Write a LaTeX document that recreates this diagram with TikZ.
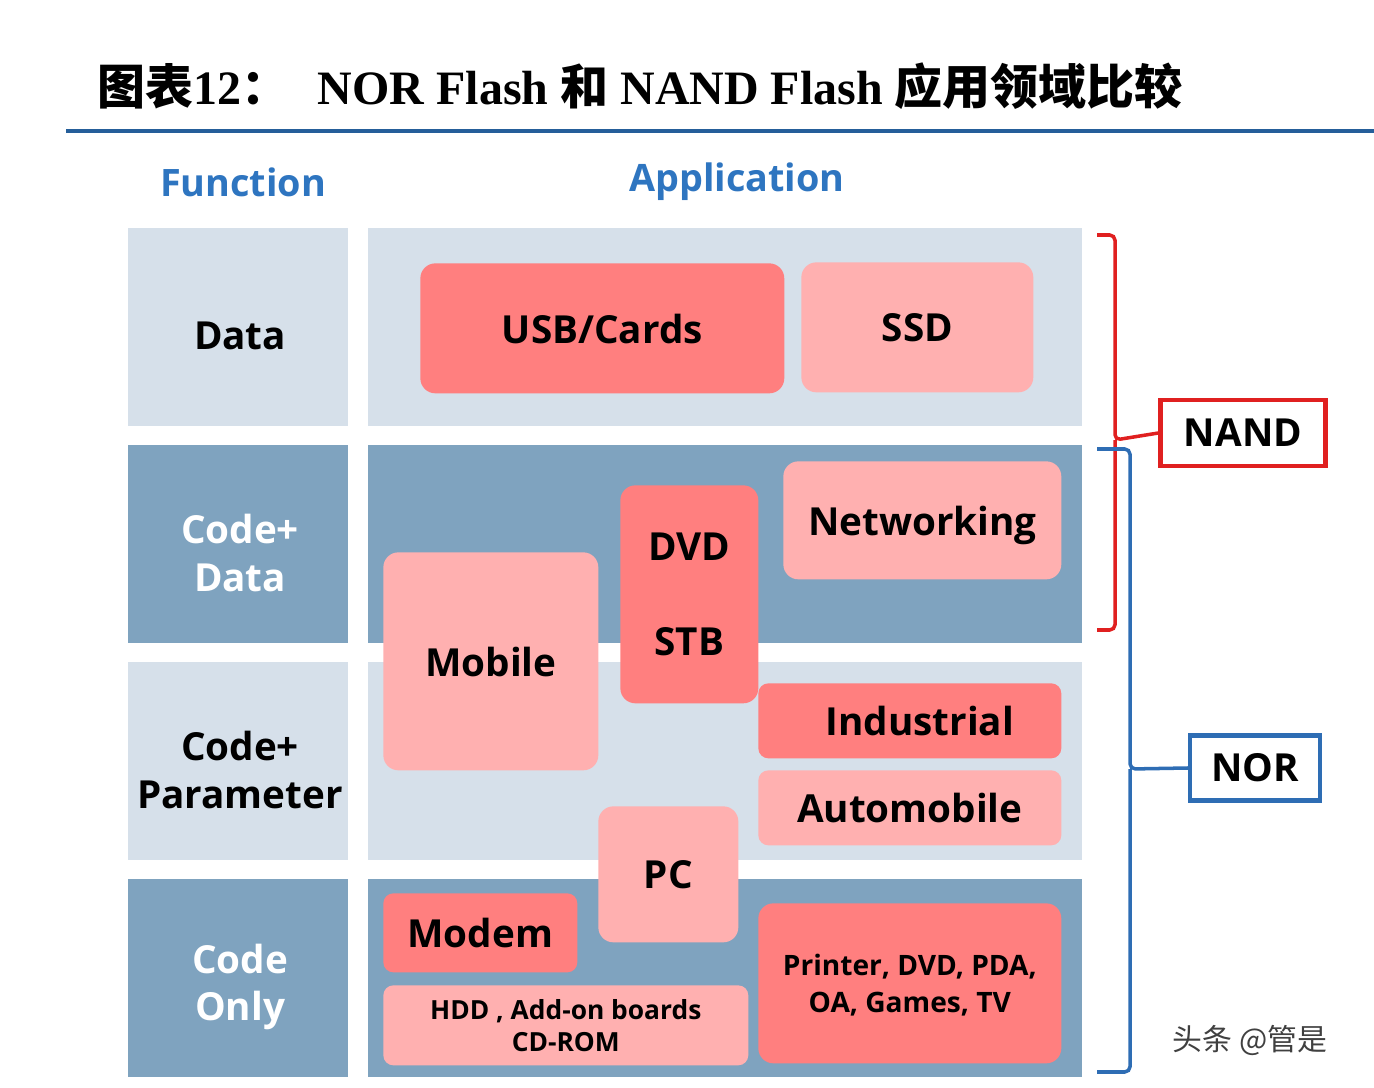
\documentclass[tikz,border=0pt]{standalone}
\usepackage{fontspec}
\setmainfont{Open Sans}
\newfontfamily\titlefont{Liberation Serif}
\newfontfamily\cjk{Noto Sans CJK SC}
\usetikzlibrary{positioning}
\definecolor{rowlight}{HTML}{D6E0EA}
\definecolor{rowdark}{HTML}{7FA3BF}
\definecolor{boxdark}{HTML}{FF7F7F}
\definecolor{boxlight}{HTML}{FFB0B0}
\definecolor{headblue}{HTML}{2E75C0}
\definecolor{norblue}{HTML}{2E6DB4}
\definecolor{nandred}{HTML}{E02020}
\tikzset{%
	row cell/.style={
		rectangle,
		inner sep=0pt,
		anchor=north west
	},
	app box/.style={
		rectangle,
		rounded corners=0.3cm,
		inner sep=0pt,
		anchor=north west,
		align=center,
		text depth=-3pt,
		font=\fontsize{22}{26}\selectfont\bfseries
	},
	tag box/.style={
		rectangle,
		draw,
		line width=2.5pt,
		fill=white,
		inner sep=0pt,
		font=\fontsize{22}{26}\selectfont\bfseries
	},
}
\begin{document}
\begin{tikzpicture}[x=0.02cm,y=-0.02cm]
		\useasboundingbox (0,0) rectangle (1374,1088);
		% Title
		\node[anchor=base west,font=\fontsize{27.3}{30}\selectfont\bfseries,inner sep=0pt] (title) at (97,105)
		{{\cjk 图表}{\titlefont 12}{\cjk ：}\hspace{0.6em}{\titlefont NOR Flash }{\cjk 和}{\titlefont\ NAND Flash }{\cjk 应用领域比较}};
		\coordinate (rule-l) at (66,131);
		\coordinate (rule-r) at (1374,131);
		\draw[headblue!80!black,line width=2.5pt] (rule-l) -- (rule-r);
		\node[text=headblue,font=\fontsize{21.5}{24}\selectfont\bfseries] (function) at (243,182) {Function};
		\node[text=headblue,font=\fontsize{21.5}{24}\selectfont\bfseries] (application) at (737,182) {Application};
		
		% Rows
		\foreach \lab/\col/\txt [count=\r] in {%
			{Data}/rowlight/black,
			{Code+\\Data}/rowdark/white,
			{Code+\\Parameter}/rowlight/black,
			{Code\\Only}/rowdark/white}
		{
			\node[row cell,fill=\col,minimum width=4.4cm,minimum height=3.96cm] (func-\r) at (128,{228+(\r-1)*217}) {};
			\node[align=center,text=\txt,font=\fontsize{22}{27}\selectfont\bfseries] at ([xshift=1pt,yshift=-5pt]func-\r.center) {\lab};
			\node[row cell,fill=\col,minimum width=14.28cm,minimum height=3.96cm] (app-\r) at (368,{228+(\r-1)*217}) {};
		}
		
		% Applications
		\node[app box,fill=boxdark,minimum width=7.28cm,minimum height=2.6cm] (usb) at (420,263) {USB/Cards};
		\node[app box,fill=boxlight,minimum width=4.64cm,minimum height=2.6cm] (ssd) at (801,262) {SSD};
		\node[app box,fill=boxlight,minimum width=5.56cm,minimum height=2.36cm] (networking) at (783,461) {Networking};
		\node[app box,fill=boxdark,minimum width=2.76cm,minimum height=4.36cm,
			font=\fontsize{22}{54}\selectfont\bfseries] (dvd) at (620,485) {DVD\\STB};
		\node[app box,fill=boxlight,minimum width=4.3cm,minimum height=4.36cm] (mobile) at (383,552) {Mobile};
		\node[app box,fill=boxdark,minimum width=6.06cm,minimum height=1.5cm,rounded corners=0.2cm] (industrial) at (758,683) {\ \ Industrial};
		\node[app box,fill=boxlight,minimum width=6.06cm,minimum height=1.5cm,rounded corners=0.2cm] (automobile) at (758,770) {Automobile};
		\node[app box,fill=boxlight,minimum width=2.8cm,minimum height=2.72cm] (pc) at (598,806) {PC};
		\node[app box,fill=boxdark,minimum width=3.88cm,minimum height=1.58cm,rounded corners=0.2cm] (modem) at (383,893) {Modem};
		\node[app box,fill=boxlight,minimum width=7.3cm,minimum height=1.6cm,rounded corners=0.2cm,
			font=\fontsize{15}{18}\selectfont\bfseries] (hdd) at (383,985) {HDD , Add-on boards\\CD-ROM};
		\node[app box,fill=boxdark,minimum width=6.06cm,minimum height=3.2cm,
			font=\fontsize{16}{21.5}\selectfont\bfseries] (printer) at (758,903) {Printer, DVD, PDA,\\OA, Games, TV};
		
		% Brackets
		\node[tag box,draw=nandred,minimum width=3.3cm,minimum height=1.32cm] (nand) at (1243,433) {NAND};
		\node[tag box,draw=norblue,minimum width=2.6cm,minimum height=1.3cm] (nor) at (1255,768) {NOR};
		\coordinate (nand-top) at (1097,235);
		\coordinate (nand-bot) at (1097,630);
		\coordinate (nor-top) at (1097,449);
		\coordinate (nor-bot) at (1097,1072);
		\draw[nandred,line width=2pt,rounded corners=3pt] (nand-top) -| (1115,440) -- (nand.west);
		\draw[nandred,line width=2pt,rounded corners=3pt] (nand-bot) -| (1115,440);
		\draw[norblue,line width=2pt,rounded corners=3pt] (nor-top) -| (1130,769) -- (nor.west);
		\draw[norblue,line width=2pt,rounded corners=3pt] (nor-bot) -| (1130,769);
		
		\node[text=black!75,font=\cjk\fontsize{17}{20}\selectfont] (mark) at (1250,1040) {头条 @管是};
\end{tikzpicture}
\end{document}
